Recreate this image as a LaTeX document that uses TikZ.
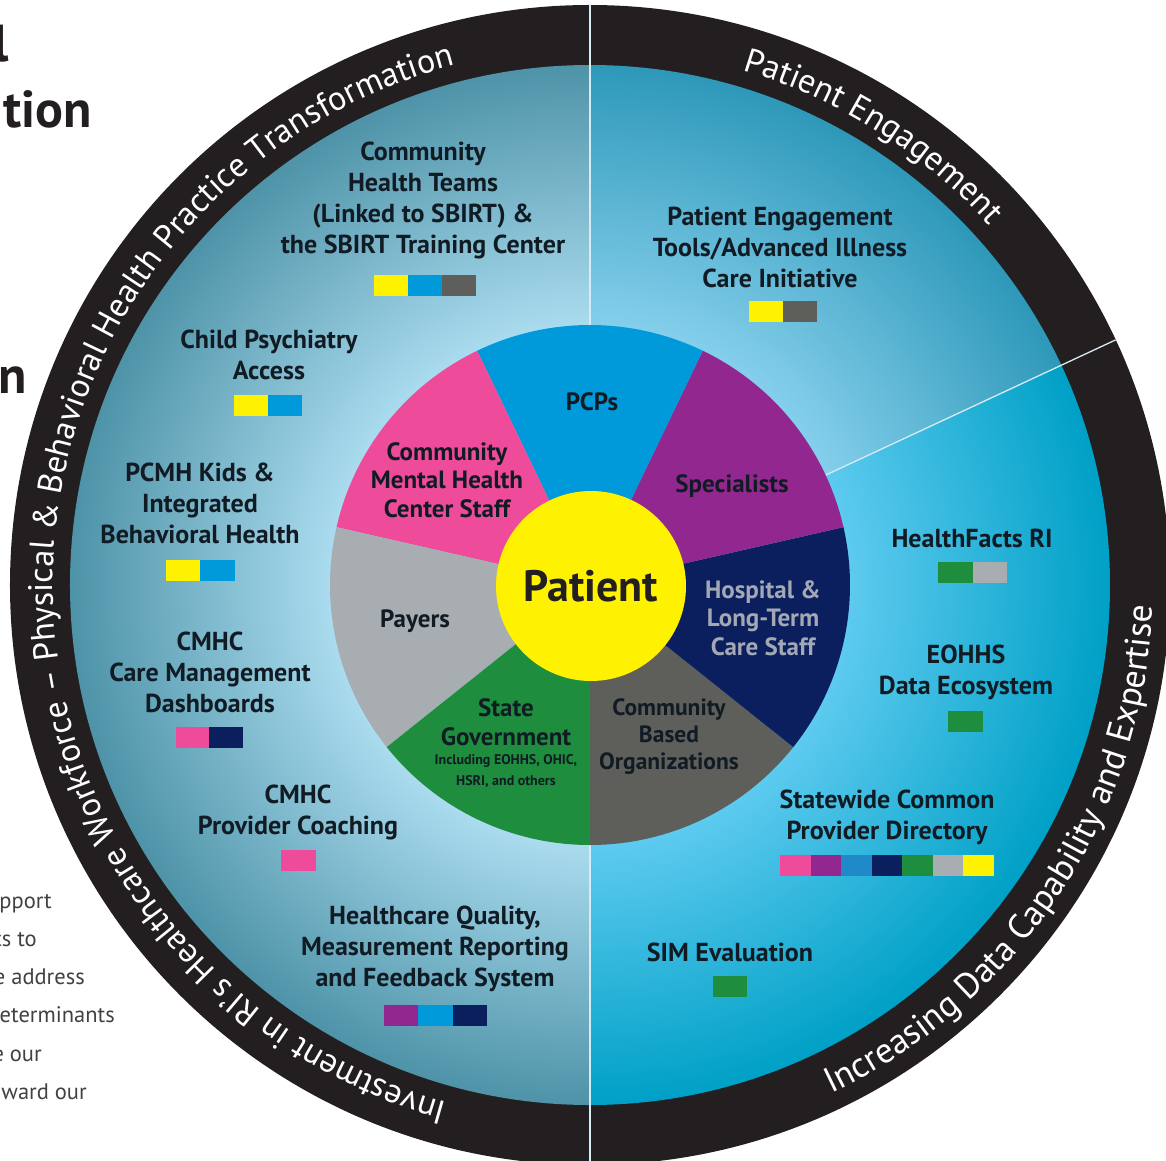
\documentclass[tikz,border=0pt]{standalone}
\usepackage{fontspec}
\setmainfont{PT Sans}
\usetikzlibrary{decorations.text}
\definecolor{color_ring}{HTML}{231F20}
\definecolor{color_left_in}{HTML}{AADBEE}
\definecolor{color_left_out}{HTML}{4E93A8}
\definecolor{color_up_in}{HTML}{84CFEB}
\definecolor{color_up_out}{HTML}{2E98B9}
\definecolor{color_low_in}{HTML}{5DCAEF}
\definecolor{color_low_out}{HTML}{00A0C6}
\definecolor{color_divider}{HTML}{D6EBF3}
\definecolor{color_yellow}{HTML}{FFF200}
\definecolor{color_blue}{HTML}{0099DA}
\definecolor{color_blue_mid}{HTML}{2089C9}
\definecolor{color_purple}{HTML}{92278F}
\definecolor{color_navy}{HTML}{0B1F5E}
\definecolor{color_darkgrey}{HTML}{5E5F5A}
\definecolor{color_green}{HTML}{1E8E3E}
\definecolor{color_lightgrey}{HTML}{A7ADB0}
\definecolor{color_pink}{HTML}{EE4C9A}
\definecolor{color_label}{HTML}{111B24}
\definecolor{color_hospital_text}{HTML}{A3A8B4}
\definecolor{color_page_text}{HTML}{414042}
\pgfdeclareradialshading{shade_left}{\pgfpoint{0bp}{0bp}}{color(0bp)=(color_left_in); color(12.5bp)=(color_left_in); color(25bp)=(color_left_out); color(50bp)=(color_left_out)}
\pgfdeclareradialshading{shade_up}{\pgfpoint{0bp}{0bp}}{color(0bp)=(color_up_in); color(12.5bp)=(color_up_in); color(25bp)=(color_up_out); color(50bp)=(color_up_out)}
\pgfdeclareradialshading{shade_low}{\pgfpoint{0bp}{0bp}}{color(0bp)=(color_low_in); color(12.5bp)=(color_low_in); color(25bp)=(color_low_out); color(50bp)=(color_low_out)}
\def\ringouter{580}
\def\ringinner{520}
\def\pieradius{260}
\def\barheight{21}
\def\ringfont{\fontsize{34}{34}\selectfont}
\def\ringfontwide{\fontsize{35.5}{35.5}\selectfont}
\def\colorbar[#1](#2,#3,#4){
    \foreach \c [count=\i from 0] in {#1}
        \fill[\c] ({#2+\i*#4},{#3-\barheight/2}) rectangle ++(#4,\barheight);
}

\begin{document}
\begin{tikzpicture}[x=1pt,y=1pt,
    lbl/.style={align=center,text=color_label,font=\fontsize{26}{31}\selectfont\bfseries},
    pielbl/.style={align=center,text=color_label,font=\fontsize{25}{28.5}\selectfont\bfseries},
    pagetext/.style={anchor=base east,inner sep=0,text=color_page_text,font=\fontsize{22.5}{22.5}\selectfont},
    titletext/.style={anchor=base east,inner sep=0,text=color_ring,font=\fontsize{52}{52}\selectfont\bfseries}]
    \useasboundingbox (-590,-575) rectangle (576,585);
    \fill[color_ring] (0,0) circle (\ringouter);
    % the three shaded fields
    \begin{scope}
        \clip (0,-\ringouter) rectangle (-\ringouter,\ringouter);
        \shade[shading=shade_left] (0,0) circle (\ringinner);
    \end{scope}
    \begin{scope}
        \clip (0,0) -- (90:\ringouter) arc[start angle=90, end angle=25, radius=\ringouter] -- cycle;
        \shade[shading=shade_up] (0,0) circle (\ringinner);
    \end{scope}
    \begin{scope}
        \clip (0,0) -- (25:\ringouter) arc[start angle=25, end angle=-90, radius=\ringouter] -- cycle;
        \shade[shading=shade_low] (0,0) circle (\ringinner);
    \end{scope}
    \draw[color_divider,line width=1.3] (0,\ringouter) -- (0,-\ringouter);
    \draw[color_divider,line width=1.3] (25:\pieradius) -- (25:\ringouter);
    % ring texts
    \path[decorate,decoration={text along path,text align=center,text color=white,
        text={|\ringfont|Investment in RI's Healthcare Workforce – Physical {\&} Behavioral Health Practice Transformation}}]
        (-105.5:537) arc[start angle=-105.5, end angle=-255.3, radius=537];
    \path[decorate,decoration={text along path,text align=center,text color=white,
        text={|\ringfont|Patient Engagement}}]
        (74.5:537) arc[start angle=74.5, end angle=41, radius=537];
    \path[decorate,decoration={text along path,text align=center,text color=white,
        text={|\ringfontwide|Increasing Data Capability and Expertise}}]
        (-65.5:563) arc[start angle=-65.5, end angle=-1.3, radius=563];
    % the pie
    \foreach \c [count=\i from 0] in {color_darkgrey,color_navy,color_purple,color_blue,color_pink,color_lightgrey,color_green}
        \fill[\c] (0,0) -- ({-90+\i*360/7}:\pieradius) arc[start angle={-90+\i*360/7}, delta angle={360/7}, radius=\pieradius] -- cycle;
    \node[circle,fill=color_yellow,minimum size=190,inner sep=0,text=color_ring,font=\fontsize{44}{44}\selectfont\bfseries] (patient) at (1,-1) {Patient};
    \node[pielbl] (pcps) at (2,183) {PCPs};
    \node[pielbl] (specialists) at (142,99) {Specialists};
    \node[pielbl,text=color_hospital_text] (hospital) at (173,-33) {Hospital \&\\Long-Term\\Care Staff};
    \node[pielbl,font=\fontsize{23.5}{27}\selectfont\bfseries] (cbo) at (79,-152) {Community\\Based\\Organizations};
    \node[pielbl] (stategov) at (-84,-137) {State\\Government};
    \node[pielbl,font=\fontsize{14}{21}\selectfont\bfseries] (stategov_note) at (-84,-186) {Including EOHHS, OHIC,\\HSRI, and others};
    \node[pielbl] (payers) at (-175,-36) {Payers};
    \node[pielbl] (cmhstaff) at (-143,105) {Community\\Mental Health\\Center Staff};
    % initiatives
    \node[lbl] (cht) at (-167,385) {Community\\Health Teams\\(Linked to SBIRT) \&\\the SBIRT Training Center};
    \colorbar[color_yellow,color_blue,color_darkgrey](-216,300,34)
    \node[lbl] (childpsych) at (-321,230) {Child Psychiatry\\Access};
    \colorbar[color_yellow,color_blue](-356,180,34)
    \node[lbl] (pcmhkids) at (-390,82) {PCMH Kids \&\\Integrated\\Behavioral Health};
    \colorbar[color_yellow,color_blue](-424,15,34.5)
    \node[lbl] (dashboards) at (-380,-87) {CMHC\\Care Management\\Dashboards};
    \colorbar[color_pink,color_navy](-414,-152,33.5)
    \node[lbl] (coaching) at (-292,-227) {CMHC\\Provider Coaching};
    \colorbar[color_pink](-309,-275,35)
    \node[lbl] (quality) at (-155,-364) {Healthcare Quality,\\Measurement Reporting\\and Feedback System};
    \colorbar[color_purple,color_blue,color_navy](-206,-430,34.3)
    \node[lbl] (engagement) at (190,338) {Patient Engagement\\Tools/Advanced Illness\\Care Initiative};
    \colorbar[color_yellow,color_darkgrey](159,274,34)
    \node[lbl] (healthfacts) at (382,47) {HealthFacts RI};
    \colorbar[color_green,color_lightgrey](348,13,34.5)
    \node[lbl] (ecosystem) at (376,-87) {EOHHS\\Data Ecosystem};
    \colorbar[color_green](358,-136,35)
    \node[lbl] (directory) at (297,-232) {Statewide Common\\Provider Directory};
    \colorbar[color_pink,color_purple,color_blue_mid,color_navy,color_green,color_lightgrey,color_yellow](190,-280,30.5)
    \node[lbl] (simeval) at (140,-367) {SIM Evaluation};
    \colorbar[color_green](123,-401,34)
    % page text cut by the frame
    \node[titletext] (title_a) at (-581,523) {l};
    \node[titletext] (title_b) at (-498,457) {tion};
    \node[titletext] (title_c) at (-563,192) {n};
    \node[pagetext] (body_a) at (-538,-323) {pport};
    \node[pagetext] (body_b) at (-553,-361) {ts to};
    \node[pagetext] (body_c) at (-505,-399) {e address};
    \node[pagetext] (body_d) at (-475,-437) {eterminants};
    \node[pagetext] (body_e) at (-548,-476) {e our};
    \node[pagetext] (body_f) at (-503,-514) {ward our};
\end{tikzpicture}
\end{document}
